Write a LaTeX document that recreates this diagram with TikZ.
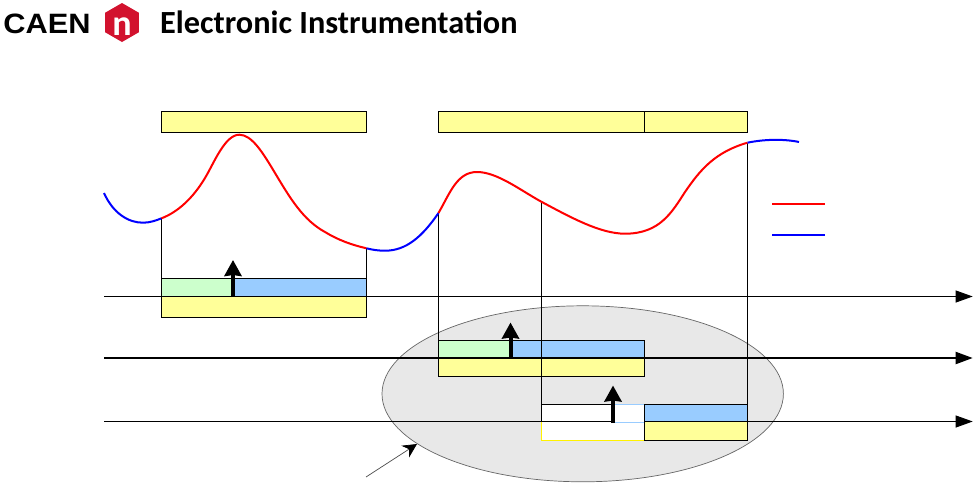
\documentclass[tikz,border=0pt]{standalone}
\usepackage{fontspec}
\setmainfont{Carlito}
\newfontfamily\caenfont{Liberation Sans}
\usepackage{tikz}
\usetikzlibrary{arrows.meta,positioning,shapes.geometric}
\definecolor{gatebox}{HTML}{FFFF99}
\definecolor{prebox}{HTML}{CCFFCC}
\definecolor{postbox}{HTML}{99CCFF}
\definecolor{zonefill}{HTML}{E8E8E8}
\definecolor{logored}{HTML}{D2122E}
\tikzset{
  axisline/.style={black, line width=0.9pt, -{Stealth[length=17pt, width=12pt, inset=0pt]}},
  signalline/.style={line width=2pt, line join=round},
  edgeline/.style={black, line width=0.9pt},
  triggerarrow/.style={black, line width=4pt, -{Stealth[length=16pt, width=17pt, inset=1pt]}}
}

\begin{document}
\begin{tikzpicture}[x=1pt, y=-1pt]
  \useasboundingbox (0,0) rectangle (974,482);

  % Logo
  \node[font=\caenfont\bfseries\fontsize{28}{28}\selectfont, anchor=base west, inner sep=0pt, xscale=1.1, line width=0.6pt] (caen) at (3,33) {CAEN};
  \node[regular polygon, regular polygon sides=6, shape border rotate=30, fill=logored, minimum size=39pt, inner sep=0pt] (hexagon) at (122,22.5) {};
  \node[font=\bfseries\fontsize{36}{36}\selectfont, white, anchor=base, inner sep=0pt] (letter) at (122,35) {n};
  \node[font=\bfseries\fontsize{32.3}{32.3}\selectfont, anchor=base west, inner sep=0pt] (title) at (160,33) {Electronic Instrumentation};

  % Shaded zone
  \draw[fill=zonefill, draw=black!60, line width=0.7pt] (582.7,393.8) ellipse (200.7 and 88);
  \draw[black!70, line width=0.7pt, -{Stealth[black, length=14pt, width=14pt]}] (366,477) -- (417,444);

  % Top boxes
  \draw[edgeline, fill=gatebox] (161.5,111.5) rectangle (366.5,132);
  \draw[edgeline, fill=gatebox] (438.5,111.5) rectangle (644.5,132);
  \draw[edgeline, fill=gatebox] (644.5,111.5) rectangle (747.5,132);

  % Drop lines
  \draw[edgeline] (161.5,218) -- (161.5,278.5);
  \draw[edgeline] (366.5,248) -- (366.5,278.5);
  \draw[edgeline] (438.5,213) -- (438.5,340.5);
  \draw[edgeline] (541.5,202) -- (541.5,404.5);
  \draw[edgeline] (747.5,143) -- (747.5,404.5);

  % Time axes
  \draw[axisline] (104,296.5) -- (972.7,296.5);
  \draw[axisline, line width=2pt] (104,358) -- (972.7,358);
  \draw[axisline] (104,421.5) -- (972.7,421.5);

  % Row 1
  \draw[edgeline, fill=prebox] (161.5,278.5) rectangle (233,296.5);
  \draw[edgeline, fill=postbox] (233,278.5) rectangle (366.5,296.5);
  \draw[edgeline, fill=gatebox] (161.5,296.5) rectangle (366.5,317);
  \draw[triggerarrow] (233,297) -- (233,260);

  % Row 2
  \draw[edgeline, fill=prebox] (438.5,340.5) rectangle (510.5,358);
  \draw[edgeline, fill=postbox] (510.5,340.5) rectangle (644.5,358);
  \draw[edgeline, fill=gatebox] (438.5,358) rectangle (644.5,376.5);
  \draw[edgeline] (541.5,340.5) -- (541.5,376.5);
  \draw[black, line width=2pt] (438.5,358) -- (644.5,358);
  \draw[triggerarrow] (510.5,358.5) -- (510.5,322.5);

  % Row 3
  \fill[white] (541.5,404.5) rectangle (644.5,440.5);
  \draw[postbox, line width=0.9pt] (613,404.5) -- (644.5,404.5) (613,422.3) -- (644.5,422.3);
  \draw[yellow, line width=0.9pt] (541.5,421.5) -- (541.5,440.5) -- (644.5,440.5);
  \draw[edgeline] (541.5,421.5) -- (541.5,404.5) -- (613,404.5);
  \draw[edgeline] (541.5,421.5) -- (613,421.5);
  \draw[edgeline, fill=postbox] (644.5,404.5) rectangle (747.5,421.5);
  \draw[edgeline, fill=gatebox] (644.5,421.5) rectangle (747.5,440.5);
  \draw[triggerarrow] (613,423) -- (613,385.5);

  % Signal
  \draw[signalline, blue] (104,193) .. controls (113,213) and (128,222.7) .. (143,222.7)
    .. controls (150,222.7) and (156,220.5) .. (161.5,218.3);
  \draw[signalline, red] (161.5,218.3) .. controls (178,212) and (193,198) .. (205,178)
    .. controls (214,163) and (225,134.7) .. (239.3,134.7)
    .. controls (252,134.7) and (263,153) .. (275,173)
    .. controls (290,198) and (303,220) .. (325,232)
    .. controls (338,240) and (352,245) .. (366.5,248.3);
  \draw[signalline, blue] (366.5,248.3) .. controls (373,250) and (379,250.7) .. (385,250.7)
    .. controls (406,250.7) and (422,237) .. (438.5,213);
  \draw[signalline, red] (438.5,213) .. controls (450,193) and (457,172) .. (477,172)
    .. controls (497,172) and (520,190) .. (541.3,201.7)
    .. controls (570,217) and (600,233.7) .. (625,233.7)
    .. controls (660,233.7) and (672,212) .. (685,192)
    .. controls (700,170) and (715,152) .. (747.5,142.7);
  \draw[signalline, blue] (747.5,142.7) .. controls (765,139) and (785,139) .. (799,142);

  % Legend
  \draw[signalline, red] (772,204) -- (825,204);
  \draw[signalline, blue] (772,235) -- (825,235);
\end{tikzpicture}
\end{document}
